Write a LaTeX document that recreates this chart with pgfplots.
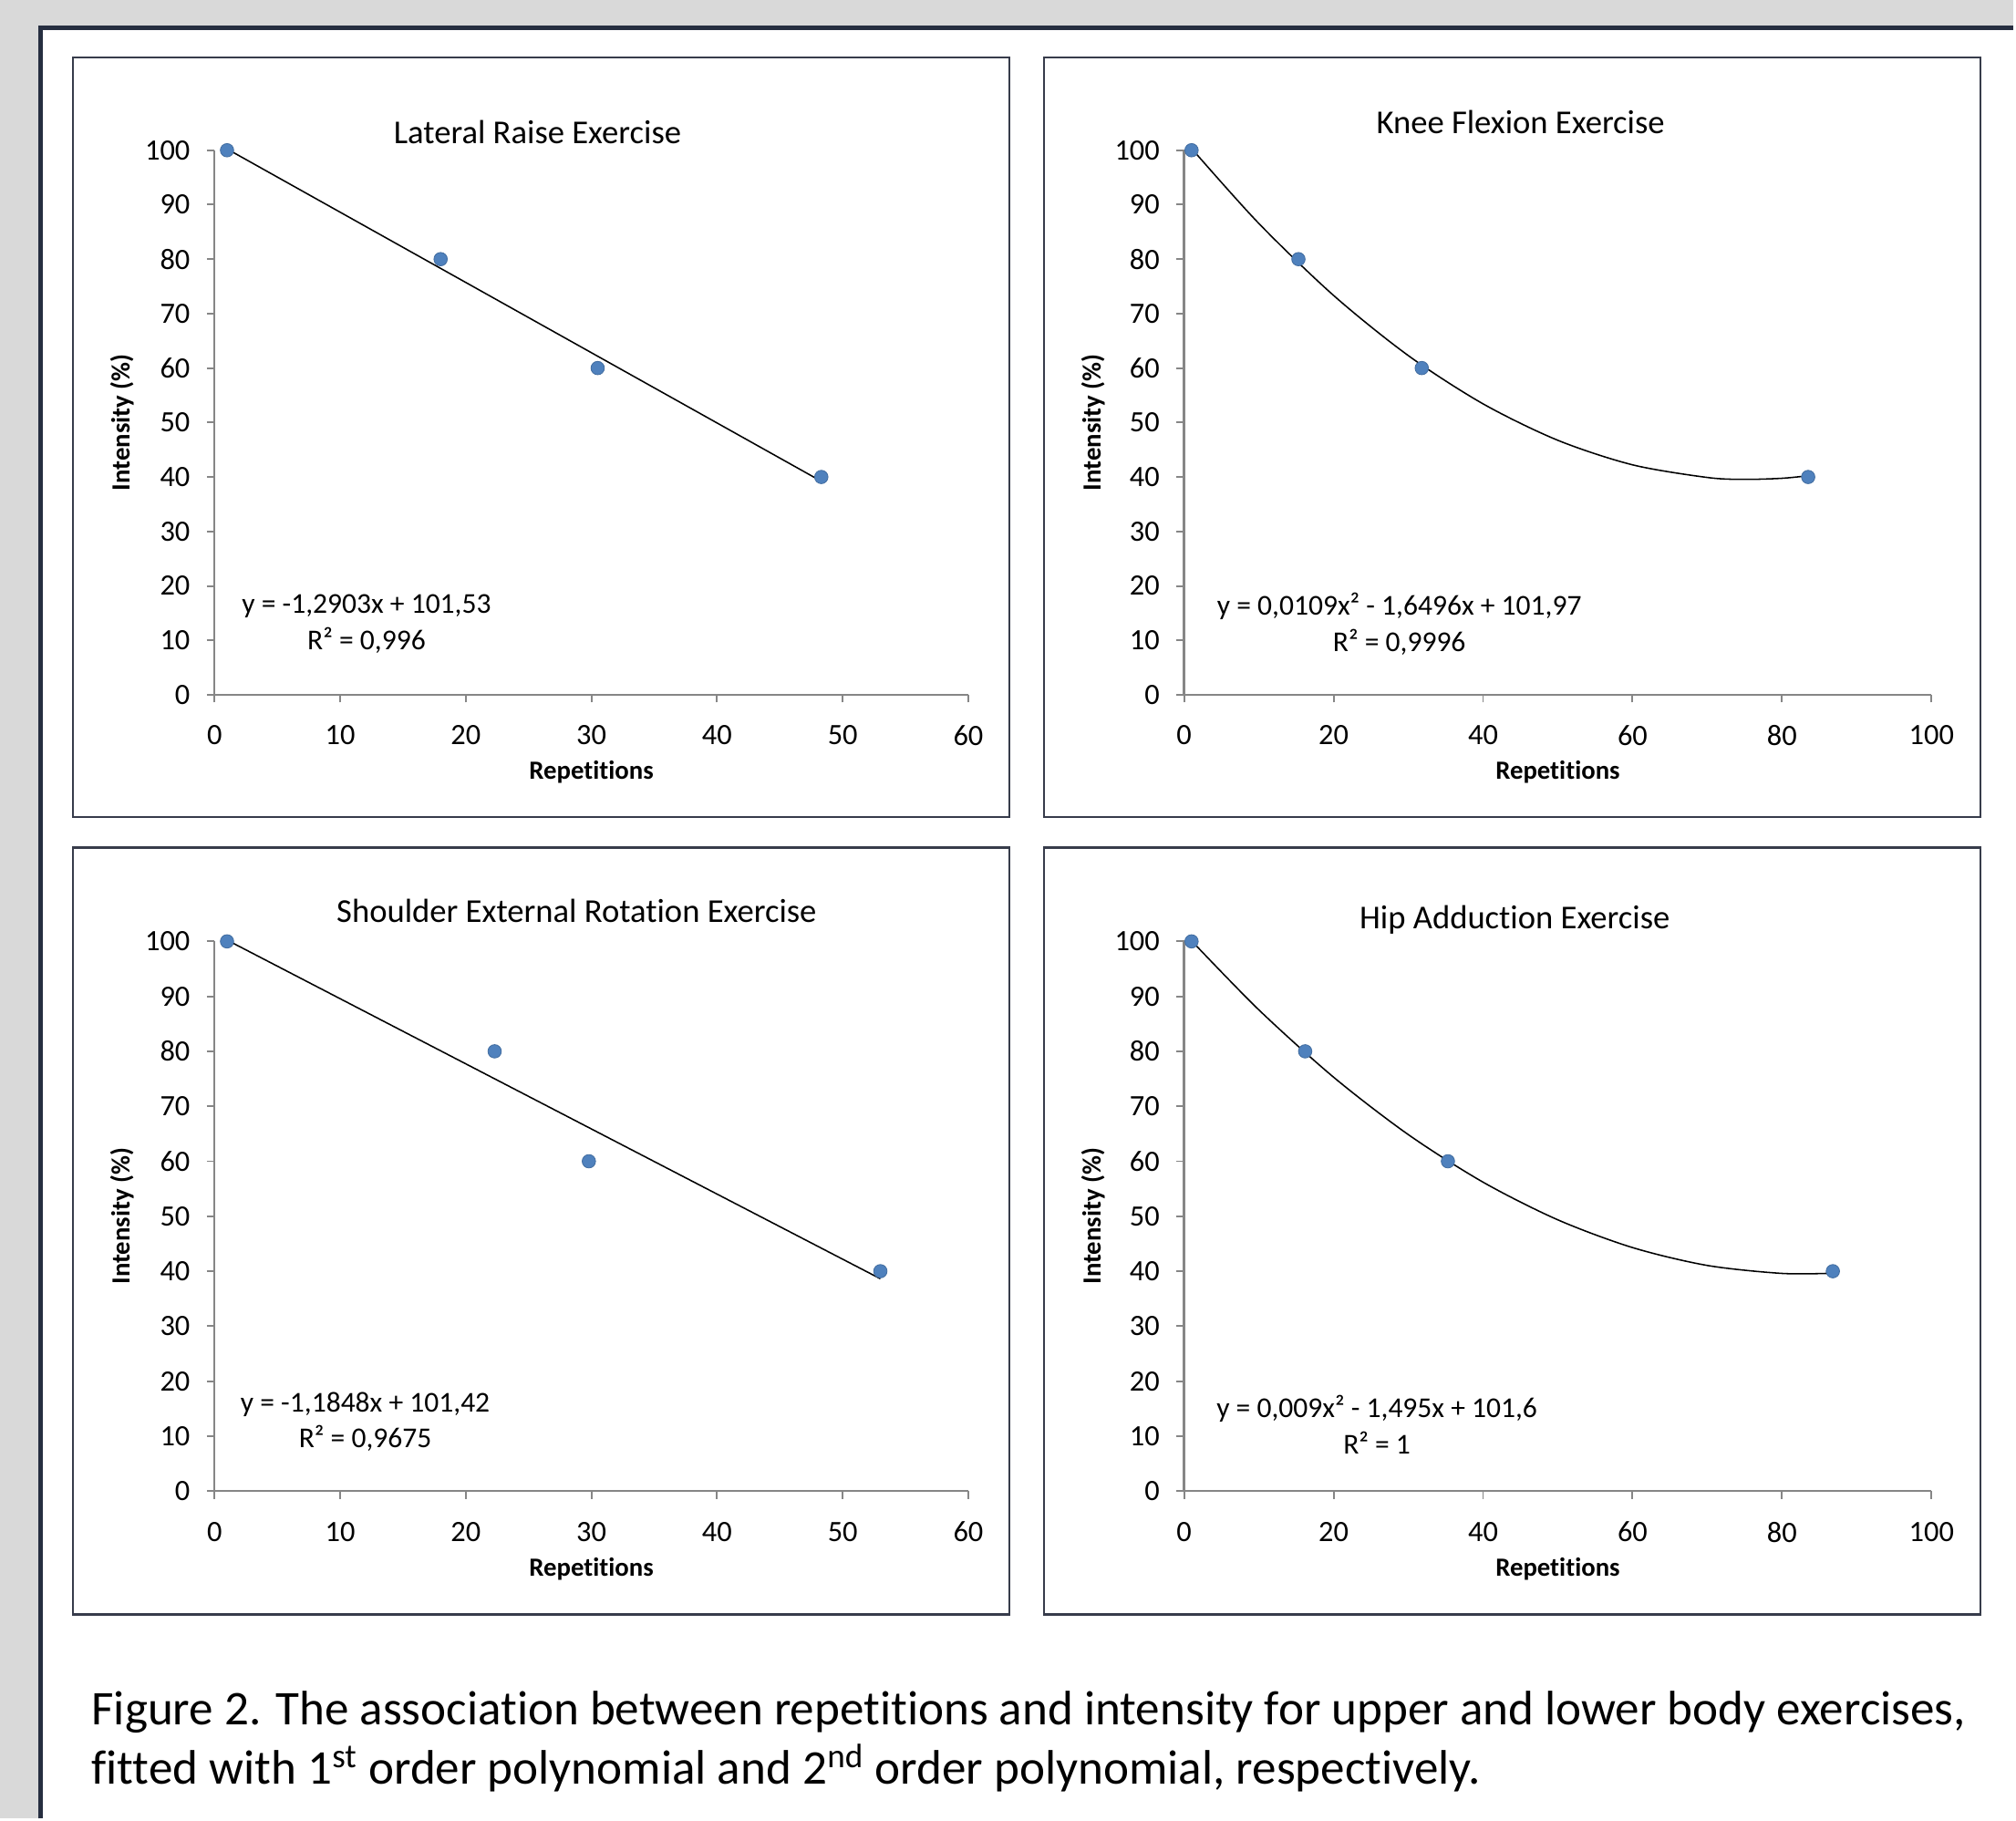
\documentclass[border=0pt]{standalone}
\usepackage{fontspec}
\setmainfont{Carlito}[Ligatures=NoCommon]
\usepackage{pgfplots}
\pgfplotsset{compat=1.18}

\definecolor{mk}{RGB}{79,129,189}
\definecolor{axg}{RGB}{134,134,134}
\definecolor{bg}{RGB}{217,217,217}
\definecolor{frame}{RGB}{38,46,64}
\definecolor{boxc}{RGB}{55,60,75}

\pgfplotsset{
  exstyle/.style={
    scale only axis, anchor=south west, clip=false,
    axis x line*=bottom, axis y line*=left,
    axis line style={axg, line width=0.8pt, -},
    ymin=0, ymax=100, ytick={0,10,...,100},
    xmin=0,
    tick align=outside, major tick length=3pt,
    tick style={axg, line width=0.7pt},
    tick label style={font=\fontsize{11.5}{13}\selectfont},
    yticklabel style={xshift=-3pt},
    xticklabel style={yshift=-5.5pt},
    /pgf/number format/assume math mode=true,
  },
  pts/.style={only marks, mark=*, mark size=2.6pt,
    mark options={fill=mk, draw=mk!85!black, line width=0.3pt}},
  fit/.style={black, line width=0.55pt, no marks},
}

\newcommand\ttl{\fontsize{13}{15}\selectfont}
\newcommand\lbl{\fontsize{10.2}{12}\selectfont\bfseries}
\newcommand\eqf{\fontsize{11.2}{14}\selectfont}

\begin{document}
\begin{tikzpicture}
% page background and frame
\fill[bg] (0pt,0pt) rectangle (784pt,708pt);
\fill[white] (15.5pt,0pt) rectangle (784pt,697.5pt);
\draw[frame, line width=1.8pt] (15.75pt,0pt) -- (15.75pt,697.25pt) -- (784pt,697.25pt);

% panel boxes
\draw[boxc, line width=0.8pt] (28.5pt,390pt) rectangle (393pt,685.5pt);
\draw[boxc, line width=0.8pt] (406.5pt,390pt) rectangle (771pt,685.5pt);
\draw[boxc, line width=0.8pt] (28.5pt,79.5pt) rectangle (393pt,378pt);
\draw[boxc, line width=0.8pt] (406.5pt,79.5pt) rectangle (771pt,378pt);

% Lateral Raise
\begin{axis}[exstyle, at={(83.5pt,437.5pt)}, width=293.5pt, height=212pt,
  xmax=60, xtick={0,10,...,60}]
\addplot[pts] coordinates {(1,100) (18,80) (30.5,60) (48.3,40)};
\addplot[fit] coordinates {(1,100.24) (48.3,39.21)};
\node[align=center, font=\eqf] at (axis cs:12.1,13.0) {y = -1,2903x + 101,53\\R² = 0,996};
\end{axis}

% Knee Flexion
\begin{axis}[exstyle, at={(461pt,437.5pt)}, width=291pt, height=212pt,
  xmax=100, xtick={0,20,...,100}]
\addplot[pts] coordinates {(1,100) (15.3,80) (31.8,60) (83.5,40)};
\addplot[fit, smooth] coordinates {(1,100.33) (10,86.56) (20,73.34) (30,62.29) (40,53.43)
  (50,46.74) (60,42.23) (70,39.91) (75,39.56) (80,39.76) (83.5,40.23)};
\node[align=center, font=\eqf] at (axis cs:28.8,13.0) {y = 0,0109x² - 1,6496x + 101,97\\R² = 0,9996};
\end{axis}

% Shoulder External Rotation
\begin{axis}[exstyle, at={(83.5pt,127.5pt)}, width=293.5pt, height=214pt,
  xmax=60, xtick={0,10,...,60}]
\addplot[pts] coordinates {(1,100) (22.3,80) (29.8,60) (53,40)};
\addplot[fit] coordinates {(1,100.24) (53,38.63)};
\node[align=center, font=\eqf] at (axis cs:12.0,12.6) {y = -1,1848x + 101,42\\R² = 0,9675};
\end{axis}

% Hip Adduction
\begin{axis}[exstyle, at={(461pt,127.5pt)}, width=291pt, height=214pt,
  xmax=100, xtick={0,20,...,100}]
\addplot[pts] coordinates {(1,100) (16.2,80) (35.3,60) (86.8,40)};
\addplot[fit, smooth] coordinates {(1,100.11) (10,87.55) (20,75.30) (30,64.85) (40,56.20)
  (50,49.35) (60,44.30) (70,41.05) (80,39.60) (86.8,39.64)};
\node[align=center, font=\eqf] at (axis cs:25.8,12.1) {y = 0,009x² - 1,495x + 101,6\\R² = 1};
\end{axis}

% titles
\node[font=\ttl] at (209.25pt,656.5pt) {Lateral Raise Exercise};
\node[font=\ttl] at (592pt,660.5pt) {Knee Flexion Exercise};
\node[font=\ttl] at (224.5pt,353.5pt) {Shoulder External Rotation Exercise};
\node[font=\ttl] at (589.75pt,350pt) {Hip Adduction Exercise};

% axis labels
\node[font=\lbl, rotate=90] at (47.5pt,543.5pt) {Intensity (\%)};
\node[font=\lbl, rotate=90] at (425.5pt,543.5pt) {Intensity (\%)};
\node[font=\lbl, rotate=90] at (47.5pt,234.5pt) {Intensity (\%)};
\node[font=\lbl, rotate=90] at (425.5pt,234.5pt) {Intensity (\%)};
\node[font=\lbl] at (230.25pt,407.5pt) {Repetitions};
\node[font=\lbl] at (606.5pt,407.5pt) {Repetitions};
\node[font=\lbl] at (230.25pt,97pt) {Repetitions};
\node[font=\lbl] at (606.5pt,97pt) {Repetitions};

% caption
\node[anchor=base west, inner sep=0pt, font=\fontsize{18.85}{23}\selectfont] at (35.5pt,36.5pt)
  {Figure 2. The association between repetitions and intensity for upper and lower body exercises,};
\node[anchor=base west, inner sep=0pt, font=\fontsize{18.85}{23}\selectfont] at (35.5pt,13.5pt)
  {fitted with 1\textsuperscript{st} order polynomial and 2\textsuperscript{nd} order polynomial, respectively.};
\end{tikzpicture}
\end{document}
